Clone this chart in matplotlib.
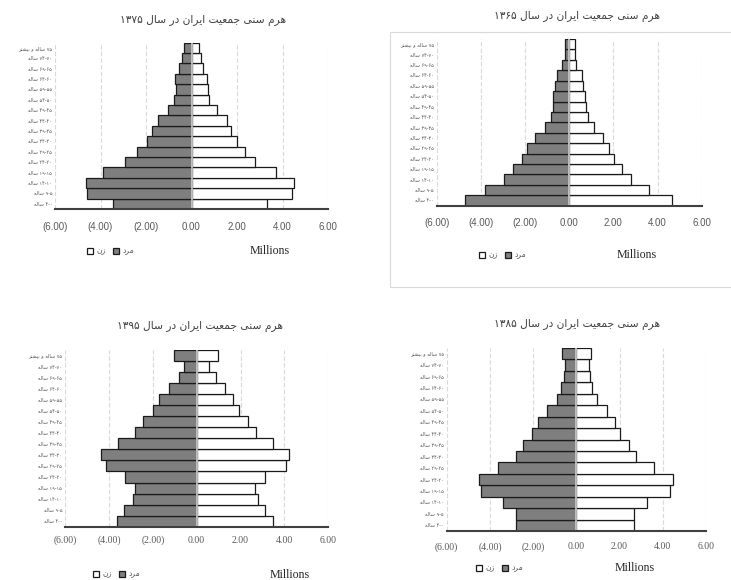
import re
import unicodedata
import matplotlib
matplotlib.use("Agg")
import matplotlib.pyplot as plt
from matplotlib.patches import Rectangle

W, H = 731, 580

# age groups, bottom (youngest) to top
age_labels = ["۴-۰ ساله", "۹-۵ ساله", "۱۴-۱۰ ساله", "۱۹-۱۵ ساله", "۲۴-۲۰ ساله",
              "۲۹-۲۵ ساله", "۳۴-۳۰ ساله", "۳۹-۳۵ ساله", "۴۴-۴۰ ساله", "۴۹-۴۵ ساله",
              "۵۴-۵۰ ساله", "۵۹-۵۵ ساله", "۶۴-۶۰ ساله", "۶۹-۶۵ ساله", "۷۴-۷۰ ساله",
              "۷۵ ساله و بیشتر"]

# millions
male_1375 = [3.44, 4.58, 4.64, 3.88, 2.93, 2.39, 1.95, 1.74, 1.48, 1.05, 0.78, 0.70, 0.72, 0.57, 0.41, 0.31]
female_1375 = [3.34, 4.42, 4.51, 3.70, 2.81, 2.33, 2.01, 1.74, 1.54, 1.10, 0.78, 0.72, 0.66, 0.51, 0.41, 0.31]

male_1365 = [4.74, 3.80, 2.97, 2.56, 2.14, 1.89, 1.54, 1.09, 0.83, 0.74, 0.75, 0.66, 0.54, 0.33, 0.17, 0.17]
female_1365 = [4.65, 3.63, 2.82, 2.38, 2.05, 1.78, 1.55, 1.12, 0.83, 0.77, 0.72, 0.62, 0.56, 0.33, 0.24, 0.24]

male_1395 = [3.65, 3.31, 2.92, 2.80, 3.25, 4.15, 4.36, 3.59, 2.81, 2.46, 1.98, 1.70, 1.25, 0.81, 0.59, 1.05]
female_1395 = [3.47, 3.13, 2.78, 2.67, 3.13, 4.06, 4.22, 3.47, 2.69, 2.33, 1.95, 1.67, 1.31, 0.90, 0.56, 0.96]

male_1385 = [2.78, 2.78, 3.40, 4.43, 4.49, 3.63, 2.77, 2.45, 2.06, 1.78, 1.34, 0.88, 0.71, 0.58, 0.52, 0.65]
female_1385 = [2.69, 2.69, 3.26, 4.35, 4.49, 3.60, 2.75, 2.42, 2.03, 1.77, 1.42, 0.97, 0.74, 0.63, 0.58, 0.69]

x_ticks = [-6, -4, -2, 0, 2, 4, 6]

NON_LEFT = set("اآأإدذرزژو")


def is_letter(c):
    return "\u0620" <= c <= "\u064A" or c in "پچژکگی"


def fa_text(s):
    # join letters into their contextual forms and lay the line out right to left
    out = []
    for i, c in enumerate(s):
        if not is_letter(c):
            out.append(c)
            continue
        before = i > 0 and is_letter(s[i - 1]) and s[i - 1] not in NON_LEFT
        after = i + 1 < len(s) and is_letter(s[i + 1]) and c not in NON_LEFT
        form = ["ISOLATED", "INITIAL", "FINAL", "MEDIAL"][int(after) + 2 * int(before)]
        try:
            out.append(unicodedata.lookup(f"{unicodedata.name(c)} {form} FORM"))
        except KeyError:
            out.append(c)
    vis = "".join(out)[::-1]
    return re.sub(r"[۰-۹\-]+", lambda m: m.group()[::-1], vis)


def fmt(v):
    return f"({abs(v):.2f})" if v < 0 else f"{v:.2f}"


def fx(x):
    return x / W


def fy(y):
    return 1 - y / H


charts = [
    dict(title="هرم سنی جمعیت ایران در سال ۱۳۷۵", male=male_1375, female=female_1375,
         box=(55, 328, 42.7, 209), font="Liberation Sans", pad=9.0,
         title_xy=(203, 21), legend_xy=(87, 251), millions_xy=(270, 251)),
    dict(title="هرم سنی جمعیت ایران در سال ۱۳۶۵", male=male_1365, female=female_1365,
         box=(436.7, 701.7, 39, 205.7), font="Liberation Sans", pad=8.5,
         title_xy=(577, 17), legend_xy=(479, 255), millions_xy=(637, 255)),
    dict(title="هرم سنی جمعیت ایران در سال ۱۳۹۵", male=male_1395, female=female_1395,
         box=(65, 328.3, 350, 526.7), font="Liberation Serif", pad=6.5,
         title_xy=(200, 327), legend_xy=(93, 574), millions_xy=(290, 575)),
    dict(title="هرم سنی جمعیت ایران در سال ۱۳۸۵", male=male_1385, female=female_1385,
         box=(446.7, 706, 348, 531), font="Liberation Serif", pad=8.0,
         title_xy=(577, 325), legend_xy=(476, 568), millions_xy=(635, 568)),
]

fig = plt.figure(figsize=(W / 100, H / 100), dpi=100)

# light frame around the 1365 chart
fig.add_artist(Rectangle((fx(390), fy(287)), fx(W + 10 - 390), (287 - 32) / H,
                         transform=fig.transFigure, fill=False, ec="#d9d9d9", lw=0.8))

ypos = list(range(len(age_labels)))

for ch in charts:
    l, r, t, b = ch["box"]
    ax = fig.add_axes([fx(l), fy(b), fx(r) - fx(l), (b - t) / H])

    men = ax.barh(ypos, [-v for v in ch["male"]], height=1.0, color="#7f7f7f",
                  edgecolor="#1a1a1a", linewidth=0.9, zorder=2)
    women = ax.barh(ypos, ch["female"], height=1.0, color="white",
                    edgecolor="#1a1a1a", linewidth=0.9, zorder=2)
    ax.axvline(0, color="#d0d0d0", lw=1.2, zorder=3)

    ax.set_xlim(-6, 6)
    ax.set_ylim(-0.5, len(age_labels) - 0.5)
    for g in x_ticks:
        if g != 0:
            ax.axvline(g, color="#d9d9d9", lw=0.8, ls=(0, (4, 2)), zorder=1)

    ax.set_xticks(x_ticks)
    ax.set_xticklabels([fmt(v) for v in x_ticks], fontsize=7, color="#595959",
                       family=ch["font"])
    ax.set_yticks(ypos)
    ax.set_yticklabels([fa_text(a) for a in age_labels], fontsize=3.6, color="#595959",
                       family="DejaVu Sans")
    ax.tick_params(axis="x", length=0, pad=ch["pad"])
    ax.tick_params(axis="y", length=0, pad=2)

    for side in ["top", "left", "right"]:
        ax.spines[side].set_visible(False)
    ax.spines["bottom"].set_color("#404040")
    ax.spines["bottom"].set_linewidth(1.5)
    ax.spines["bottom"].set_zorder(4)

    fig.text(fx(ch["title_xy"][0]), fy(ch["title_xy"][1]), fa_text(ch["title"]),
             ha="center", va="center", fontsize=7.7, color="#404040", family="DejaVu Sans")
    fig.text(fx(ch["millions_xy"][0]), fy(ch["millions_xy"][1]), "Millions",
             ha="center", va="center", fontsize=8.6, color="#262626", family="Liberation Serif")

    ax.legend(handles=[women, men], labels=[fa_text("زن"), fa_text("مرد")], ncol=2,
              loc="center left", bbox_to_anchor=(fx(ch["legend_xy"][0]), fy(ch["legend_xy"][1])),
              bbox_transform=fig.transFigure, frameon=False,
              handlelength=0.8, handleheight=0.8, handletextpad=0.4, columnspacing=1.0,
              borderpad=0, borderaxespad=0, labelcolor="#595959",
              prop={"family": "DejaVu Sans", "size": 5.5})

fig.savefig("out.png", dpi=100)
